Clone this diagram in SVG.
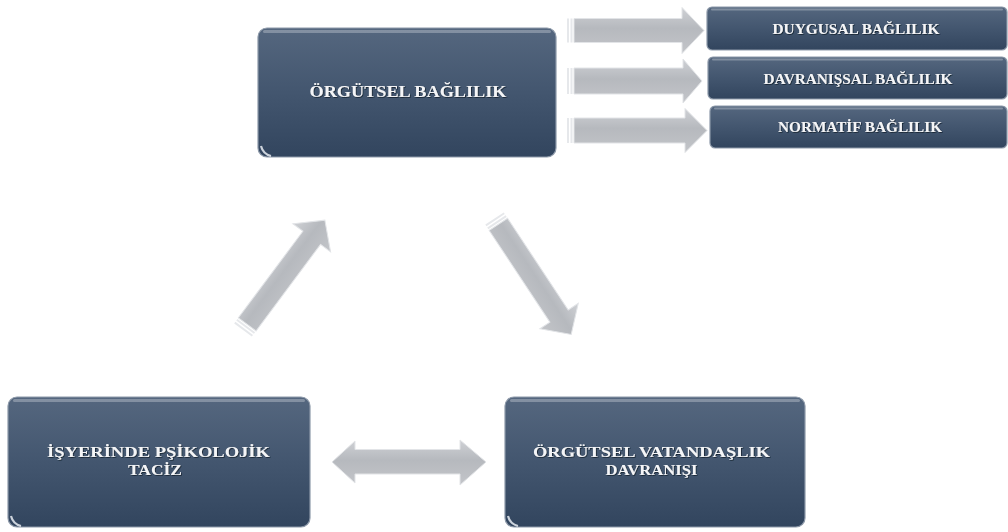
<svg xmlns="http://www.w3.org/2000/svg" width="1008" height="532" viewBox="0 0 1008 532">
<style>
.box{fill:url(#boxg);stroke:#8d99a9;stroke-width:1.2}
.hl{fill:#ffffff;opacity:.28}
.gloss{fill:none;stroke:#e8ecf2;stroke-width:2.2;opacity:.85}
.t{font-family:"Liberation Serif","Times New Roman",serif;font-weight:bold;fill:#f4f5f7;text-anchor:middle;filter:url(#ts)}
.big{font-size:16px}
.mid{font-size:15.5px}
.sm{font-size:14.5px}
.arr{fill:url(#ag);stroke:#e2e4e7;stroke-width:1}
.str{fill:#e6e8eb}
</style>
<defs>
<linearGradient id="boxg" x1="0" y1="0" x2="0" y2="1">
<stop offset="0" stop-color="#55677f"/>
<stop offset="0.5" stop-color="#43566f"/>
<stop offset="1" stop-color="#32455e"/>
</linearGradient>
<linearGradient id="ag" x1="0" y1="0" x2="0" y2="1">
<stop offset="0" stop-color="#cfd1d5"/>
<stop offset="0.45" stop-color="#b6b9be"/>
<stop offset="1" stop-color="#c3c5c9"/>
</linearGradient>
<filter id="ts" x="-10%" y="-30%" width="120%" height="160%">
<feDropShadow dx="0.8" dy="0.8" stdDeviation="0.6" flood-color="#111a26" flood-opacity="0.9"/>
</filter>
</defs>

<g id="connectors">
<g id="arrow-right-1" transform="translate(567,30.5)">
<rect class="str" x="0" y="-12" width="2" height="24"/>
<rect class="str" x="3.5" y="-12" width="2" height="24"/>
<polygon class="arr" points="7,-12 115,-12 115,-23 137,0 115,23 115,12 7,12"/>
</g>
<g id="arrow-right-2" transform="translate(567,81)">
<rect class="str" x="0" y="-13" width="2" height="26"/>
<rect class="str" x="3.5" y="-13" width="2" height="26"/>
<polygon class="arr" points="7,-13 116,-13 116,-22 135,0 116,22 116,13 7,13"/>
</g>
<g id="arrow-right-3" transform="translate(567,130.5)">
<rect class="str" x="0" y="-12.5" width="2" height="25"/>
<rect class="str" x="3.5" y="-12.5" width="2" height="25"/>
<polygon class="arr" points="7,-12.5 118,-12.5 118,-22 140,0 118,22 118,12.5 7,12.5"/>
</g>
<g id="arrow-up" transform="translate(243,330) rotate(-53.3)">
<rect class="str" x="0" y="-11" width="2" height="22"/>
<rect class="str" x="3.5" y="-11" width="2" height="22"/>
<polygon class="arr" points="7,-11 115,-11 115,-23.5 137,0 115,23.5 115,11 7,11"/>
</g>
<g id="arrow-down" transform="translate(494.5,218.5) rotate(56.5)">
<rect class="str" x="0" y="-11" width="2" height="22"/>
<rect class="str" x="3.5" y="-11" width="2" height="22"/>
<polygon class="arr" points="7,-11 117,-11 117,-23 139,0 117,23 117,11 7,11"/>
</g>
<g id="arrow-double">
<polygon class="arr" points="332,462 355,441 355,449.5 460,449.5 460,440 486,462 460,485 460,474 355,474 355,483"/>
</g>
</g>

<g id="node-orgutsel-baglilik">
<rect class="box" x="258" y="28" width="298" height="129" rx="9"/>
<rect class="hl" x="263" y="30" width="288" height="3" rx="1.5"/>
<path class="gloss" d="M261,146 Q263,154 271,156"/>
<text class="t big" x="408" y="97" textLength="197" lengthAdjust="spacingAndGlyphs">ÖRGÜTSEL BAĞLILIK</text>
</g>

<g id="node-duygusal">
<rect class="box" x="707" y="7" width="300" height="43" rx="5"/>
<rect class="hl" x="711" y="8.5" width="292" height="2" rx="1"/>
<text class="t sm" x="856" y="34" textLength="167" lengthAdjust="spacingAndGlyphs">DUYGUSAL BAĞLILIK</text>
</g>

<g id="node-davranissal">
<rect class="box" x="708" y="57" width="299" height="42" rx="5"/>
<rect class="hl" x="712" y="58.5" width="291" height="2" rx="1"/>
<text class="t sm" x="858" y="83.5" textLength="189" lengthAdjust="spacingAndGlyphs">DAVRANIŞSAL BAĞLILIK</text>
</g>

<g id="node-normatif">
<rect class="box" x="710" y="106" width="297" height="42" rx="5"/>
<rect class="hl" x="714" y="107.5" width="289" height="2" rx="1"/>
<text class="t sm" x="860" y="132" textLength="164" lengthAdjust="spacingAndGlyphs">NORMATİF BAĞLILIK</text>
</g>

<g id="node-isyerinde">
<rect class="box" x="8" y="397" width="302" height="130" rx="9"/>
<rect class="hl" x="13" y="399" width="292" height="3" rx="1.5"/>
<path class="gloss" d="M11,516 Q13,524 21,526"/>
<text class="t mid" x="158.5" y="457" textLength="223" lengthAdjust="spacingAndGlyphs">İŞYERİNDE PŞİKOLOJİK</text>
<text class="t mid" x="155" y="475" textLength="54" lengthAdjust="spacingAndGlyphs">TACİZ</text>
</g>

<g id="node-vatandaslik">
<rect class="box" x="505" y="397" width="300" height="130" rx="9"/>
<rect class="hl" x="510" y="399" width="290" height="3" rx="1.5"/>
<path class="gloss" d="M508,516 Q510,524 518,526"/>
<text class="t mid" x="651.5" y="457" textLength="237" lengthAdjust="spacingAndGlyphs">ÖRGÜTSEL VATANDAŞLIK</text>
<text class="t mid" x="651.5" y="475" textLength="92" lengthAdjust="spacingAndGlyphs">DAVRANIŞI</text>
</g>
</svg>
